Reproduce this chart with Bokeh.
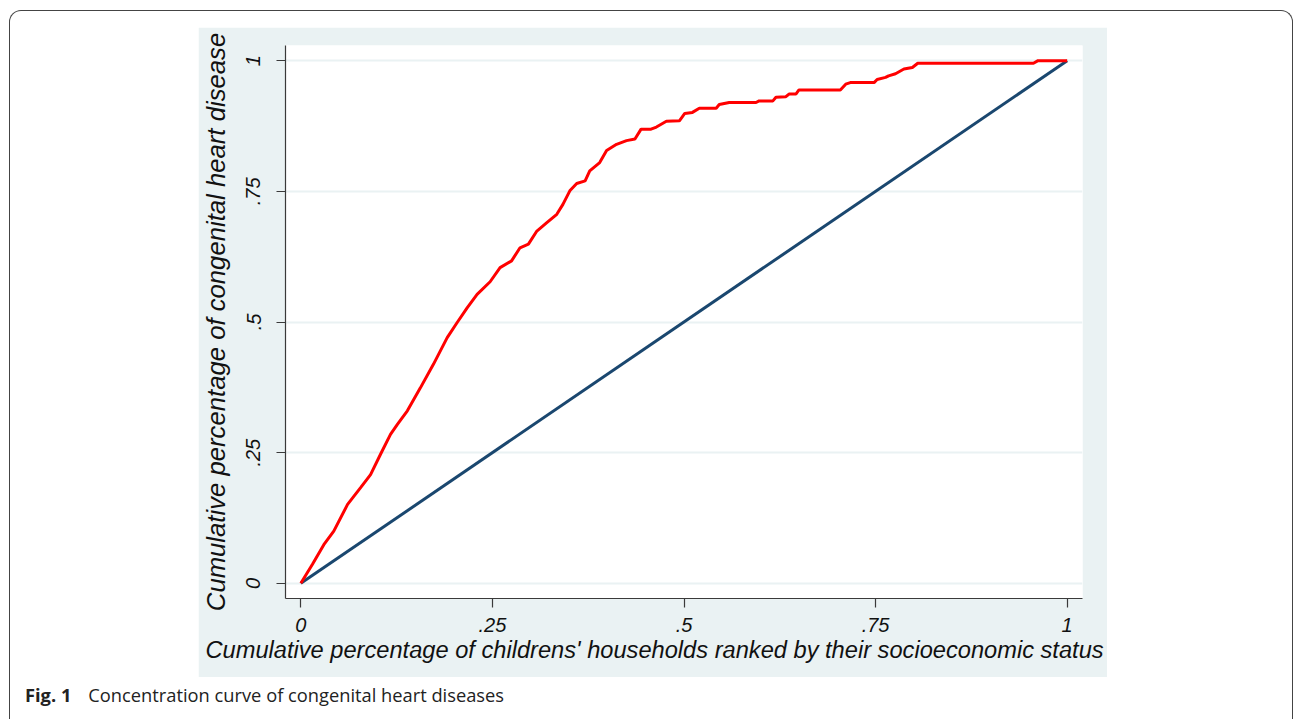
from bokeh.plotting import figure
from bokeh.models import Range1d, FixedTicker, Title, Div, Spacer
from bokeh.layouts import column, row
from bokeh.embed import file_html
from bokeh.resources import INLINE

# ---- data ----
x_curve = [0, 0.015, 0.030, 0.043, 0.061, 0.078, 0.091, 0.104, 0.117, 0.126,
           0.139, 0.156, 0.173, 0.191, 0.204, 0.217, 0.230, 0.247, 0.260, 0.275,
           0.286, 0.297, 0.308, 0.321, 0.334, 0.342, 0.351, 0.360, 0.371, 0.377,
           0.390, 0.399, 0.412, 0.425, 0.436, 0.444, 0.457, 0.464, 0.477, 0.494,
           0.501, 0.511, 0.520, 0.542, 0.546, 0.559, 0.594, 0.598, 0.616, 0.620,
           0.633, 0.637, 0.646, 0.650, 0.704, 0.711, 0.717, 0.748, 0.752, 0.763,
           0.767, 0.776, 0.787, 0.798, 0.805, 0.956, 0.962, 1.0]
y_curve = [0, 0.036, 0.074, 0.100, 0.151, 0.183, 0.208, 0.247, 0.285, 0.304,
           0.330, 0.374, 0.419, 0.470, 0.499, 0.527, 0.553, 0.577, 0.604, 0.617,
           0.642, 0.649, 0.674, 0.690, 0.706, 0.725, 0.751, 0.765, 0.770, 0.789,
           0.805, 0.828, 0.840, 0.847, 0.850, 0.869, 0.869, 0.873, 0.884, 0.885,
           0.899, 0.901, 0.909, 0.909, 0.916, 0.920, 0.920, 0.923, 0.923, 0.930,
           0.931, 0.936, 0.936, 0.944, 0.944, 0.955, 0.958, 0.958, 0.964, 0.968,
           0.971, 0.975, 0.984, 0.987, 0.995, 0.995, 1.0, 1.0]
x_equality = [0, 1]
y_equality = [0, 1]
tick_values = [0, 0.25, 0.5, 0.75, 1]
tick_labels = ["0", ".25", ".5", ".75", "1"]
x_title = "Cumulative percentage of childrens' households ranked by their socioeconomic status"
y_title = "Cumulative percentage of congenital heart disease"
caption_bold = "Fig. 1"
caption_text = "Concentration curve of congenital heart diseases"

BAND = "#eaf2f3"
AXIS = "#3a3a3a"
FONT = "Liberation Sans"

p = figure(width=909, height=650, output_backend="svg", toolbar_location=None,
           x_range=Range1d(-0.02, 1.02), y_range=Range1d(-0.029, 1.029),
           min_border_left=87, min_border_right=25,
           min_border_top=18, min_border_bottom=79)
p.border_fill_color = BAND
p.background_fill_color = "white"
p.outline_line_color = None

# lines
p.line(x_equality, y_equality, line_color="#1a476f", line_width=3)
p.line(x_curve, y_curve, line_color="#ff0000", line_width=3)

# axes
overrides = {v: l for v, l in zip(tick_values, tick_labels)}
for ax in (p.xaxis[0], p.yaxis[0]):
    ax.ticker = FixedTicker(ticks=tick_values)
    ax.major_label_overrides = overrides
    ax.minor_tick_line_color = None
    ax.major_tick_in = 0
    ax.major_tick_out = 9
    ax.major_tick_line_color = AXIS
    ax.major_tick_line_width = 1.2
    ax.axis_line_color = AXIS
    ax.axis_line_width = 1.2
    ax.major_label_text_font = FONT
    ax.major_label_text_font_style = "italic"
    ax.major_label_text_font_size = "20px"
    ax.major_label_text_color = "#111"
p.yaxis.major_label_orientation = "vertical"
p.yaxis.major_label_standoff = 16
p.xaxis.major_label_standoff = 10

p.yaxis.axis_label = y_title
p.yaxis.axis_label_text_font = FONT
p.yaxis.axis_label_text_font_style = "italic"
p.yaxis.axis_label_text_font_size = "25.7px"
p.yaxis.axis_label_text_color = "#111"
p.yaxis.axis_label_standoff = 14

xt = Title(text=x_title, align="left", offset=-80, standoff=0,
           text_font=FONT, text_font_style="italic", text_font_size="23.65px",
           text_color="#111")
p.add_layout(xt, "below")

p.xgrid.visible = False
p.ygrid.grid_line_color = BAND
p.ygrid.grid_line_width = 2

cap = Div(text=('<span style="font-weight:700">' + caption_bold + '</span>'
                '<span style="margin-left:17px">' + caption_text + '</span>'),
          width=700, height=24,
          styles={"font-family": "'Open Sans'", "font-size": "18.3px",
                  "color": "#222", "white-space": "nowrap", "line-height": "24px"})

root = column(
    Spacer(width=1282, height=16),
    row(Spacer(width=188, height=650), p),
    Spacer(width=10, height=1),
    row(Spacer(width=10, height=24), cap),
    Spacer(width=10, height=13),
    styles={"border": "1.4px solid #444", "border-bottom": "none",
            "border-radius": "12px 12px 0 0", "margin": "10px 0 0 9px"},
)

open("out.html", "w").write(file_html(root, INLINE))
